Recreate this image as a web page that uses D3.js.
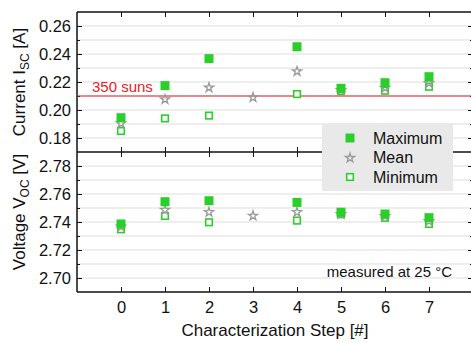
<!DOCTYPE html>
<html><head><meta charset="utf-8">
<script src="https://cdn.jsdelivr.net/npm/d3@7"></script>
<style>body{margin:0;background:#fff}svg{display:block;font-family:"Liberation Sans",Arial,sans-serif}</style>
</head><body><svg id="c" width="471" height="343"></svg>
<script>
const steps = [0,1,2,3,4,5,6,7];
const iscMax  = [0.1945,0.2174,0.2367,null,0.2452,0.2155,0.2195,0.2238];
const iscMean = [0.1908,0.2080,0.2164,0.2093,0.2280,0.2145,0.2162,0.2195];
const iscMin  = [0.1850,0.1940,0.1960,null,0.2114,0.2135,0.2138,0.2166];
const vocMax  = [2.7386,2.7545,2.7552,null,2.7540,2.7470,2.7457,2.7431];
const vocMean = [2.7370,2.7490,2.7474,2.7448,2.7474,2.7460,2.7445,2.7410];
const vocMin  = [2.7348,2.7443,2.7398,null,2.7410,2.7455,2.7430,2.7386];
const iscTicks = [0.18,0.20,0.22,0.24,0.26];
const vocTicks = [2.70,2.72,2.74,2.76,2.78];
const refLine = 0.21;

const svg = d3.select("#c");
const green = "#2bcf2b", gray = "#9a9a9a";
const L = 77, R = 473, T = 12, M = 152, B = 292;
const x = d3.scaleLinear().domain([-1,8]).range([L,R]);
const yI = d3.scaleLinear().domain([0.17,0.27]).range([M,T]);
const yV = d3.scaleLinear().domain([2.69,2.79]).range([B,M]);
const FF = "Liberation Sans, Arial, sans-serif";

function panel(y, ticks, minor){
  svg.append("g").selectAll("line").data(minor).join("line")
    .attr("x1",L).attr("x2",R).attr("y1",d=>y(d)).attr("y2",d=>y(d))
    .attr("stroke","#e8e8e8").attr("stroke-width",1.3);
  const minorOnly = minor.filter(v=>!ticks.some(t=>Math.abs(t-v)<1e-6));
  const la = svg.append("g").attr("transform",`translate(${L},0)`)
    .call(d3.axisRight(y).tickValues(ticks).tickSize(5).tickFormat(""));
  la.select(".domain").remove();
  const lb = svg.append("g").attr("transform",`translate(${L},0)`)
    .call(d3.axisLeft(y).tickValues(ticks).tickSize(0).tickPadding(6).tickFormat(d3.format(".2f")));
  lb.select(".domain").remove();
  lb.selectAll("text").attr("font-size",16.5).attr("fill","#111").attr("font-family",FF);
  const lm = svg.append("g").attr("transform",`translate(${L},0)`)
    .call(d3.axisRight(y).tickValues(minorOnly).tickSize(3).tickFormat(""));
  lm.select(".domain").remove();
  const ra = svg.append("g").attr("transform",`translate(${R},0)`)
    .call(d3.axisLeft(y).tickValues(ticks).tickSize(5).tickFormat(""));
  ra.select(".domain").remove();
  const rm = svg.append("g").attr("transform",`translate(${R},0)`)
    .call(d3.axisLeft(y).tickValues(minorOnly).tickSize(3).tickFormat(""));
  rm.select(".domain").remove();
}
panel(yI, iscTicks, d3.range(0.18,0.2651,0.01).map(v=>+v.toFixed(2)));
panel(yV, vocTicks, d3.range(2.70,2.7851,0.01).map(v=>+v.toFixed(2)));

const xt = svg.append("g").attr("transform",`translate(0,${T})`).call(d3.axisBottom(x).tickValues(steps).tickSize(5).tickFormat(""));
xt.select(".domain").remove();
const xm1 = svg.append("g").attr("transform",`translate(0,${M})`).call(d3.axisTop(x).tickValues(steps).tickSize(5).tickFormat(""));
xm1.select(".domain").remove();
const xm2 = svg.append("g").attr("transform",`translate(0,${M})`).call(d3.axisBottom(x).tickValues(steps).tickSize(5).tickFormat(""));
xm2.select(".domain").remove();
const xb = svg.append("g").attr("transform",`translate(0,${B})`).call(d3.axisTop(x).tickValues(steps).tickSize(5).tickFormat(""));
xb.select(".domain").remove();
const xl = svg.append("g").attr("transform",`translate(0,${B})`).call(d3.axisBottom(x).tickValues(steps).tickSize(0).tickPadding(9).tickFormat(d3.format("d")));
xl.select(".domain").remove();
xl.selectAll("text").attr("font-size",16.5).attr("fill","#111").attr("font-family",FF);
svg.selectAll(".tick line").attr("stroke","#111");

svg.append("line").attr("x1",L).attr("x2",L).attr("y1",T).attr("y2",B).attr("stroke","#111").attr("stroke-width",1.5);
svg.append("line").attr("x1",L).attr("x2",R).attr("y1",T).attr("y2",T).attr("stroke","#111").attr("stroke-width",1.5);
svg.append("line").attr("x1",L).attr("x2",R).attr("y1",B).attr("y2",B).attr("stroke","#111").attr("stroke-width",1.5);
svg.append("line").attr("x1",L).attr("x2",R).attr("y1",M).attr("y2",M).attr("stroke","#111").attr("stroke-width",1.5);
svg.append("line").attr("x1",R).attr("x2",R).attr("y1",T).attr("y2",B).attr("stroke","#111").attr("stroke-width",1.5);

svg.append("line").attr("x1",L).attr("x2",R).attr("y1",yI(refLine)).attr("y2",yI(refLine)).attr("stroke","#e8202a").attr("stroke-width",1.2);
svg.append("text").attr("x",x(-0.66)).attr("y",yI(refLine)-4).attr("fill","#e8202a").attr("font-size",15).text("350 suns");

const star = d3.symbol().type(d3.symbolStar).size(26);
function markers(y, mx, mn, me){
  const g = svg.append("g");
  g.selectAll(".mn").data(steps.filter(i=>mn[i]!=null)).join("rect")
    .attr("x",i=>x(i)-3.3).attr("y",i=>y(mn[i])-3.3).attr("width",6.6).attr("height",6.6)
    .attr("fill","#fff").attr("stroke",green).attr("stroke-width",1.6);
  g.selectAll(".me").data(steps.filter(i=>me[i]!=null)).join("path")
    .attr("d",star).attr("transform",i=>`translate(${x(i)},${y(me[i])+0.5})`)
    .attr("fill","none").attr("stroke",gray).attr("stroke-width",1.3);
  g.selectAll(".mx").data(steps.filter(i=>mx[i]!=null)).join("rect")
    .attr("x",i=>x(i)-4.5).attr("y",i=>y(mx[i])-4.5).attr("width",9).attr("height",9).attr("fill",green);
}
markers(yI, iscMax, iscMin, iscMean);
markers(yV, vocMax, vocMin, vocMean);

const lg = svg.append("g");
lg.append("rect").attr("x",322).attr("y",123).attr("width",131).attr("height",68).attr("fill","#e9e9e9");
const items = [["Maximum","max"],["Mean","mean"],["Minimum","min"]];
items.forEach(([t,k],i)=>{
  const cy = 138 + i*19.5;
  if(k==="max") lg.append("rect").attr("x",345.5).attr("y",cy-4.5).attr("width",9).attr("height",9).attr("fill",green);
  if(k==="mean") lg.append("path").attr("d",star).attr("transform",`translate(350,${cy+0.5})`).attr("fill","none").attr("stroke",gray).attr("stroke-width",1.3);
  if(k==="min") lg.append("rect").attr("x",346.7).attr("y",cy-3.3).attr("width",6.6).attr("height",6.6).attr("fill","#fff").attr("stroke",green).attr("stroke-width",1.6);
  lg.append("text").attr("x",373).attr("y",cy+5.5).attr("font-size",16).attr("fill","#111").text(t);
});

svg.append("text").attr("x",452).attr("y",277).attr("text-anchor","end").attr("font-size",15).attr("fill","#111").text("measured at 25 °C");

const t1 = svg.append("text").attr("transform",`translate(25,82) rotate(-90)`).attr("text-anchor","middle").attr("font-size",17).attr("fill","#111");
t1.append("tspan").text("Current I");
t1.append("tspan").attr("font-size",12).attr("dy",4).text("SC");
t1.append("tspan").attr("dy",-4).text(" [A]");
const t2 = svg.append("text").attr("transform",`translate(25,212) rotate(-90)`).attr("text-anchor","middle").attr("font-size",17).attr("fill","#111");
t2.append("tspan").text("Voltage V");
t2.append("tspan").attr("font-size",12).attr("dy",4).text("OC");
t2.append("tspan").attr("dy",-4).text(" [V]");
svg.append("text").attr("x",x(3.5)).attr("y",336).attr("text-anchor","middle").attr("font-size",17).attr("fill","#111").text("Characterization Step [#]");
</script></body></html>
